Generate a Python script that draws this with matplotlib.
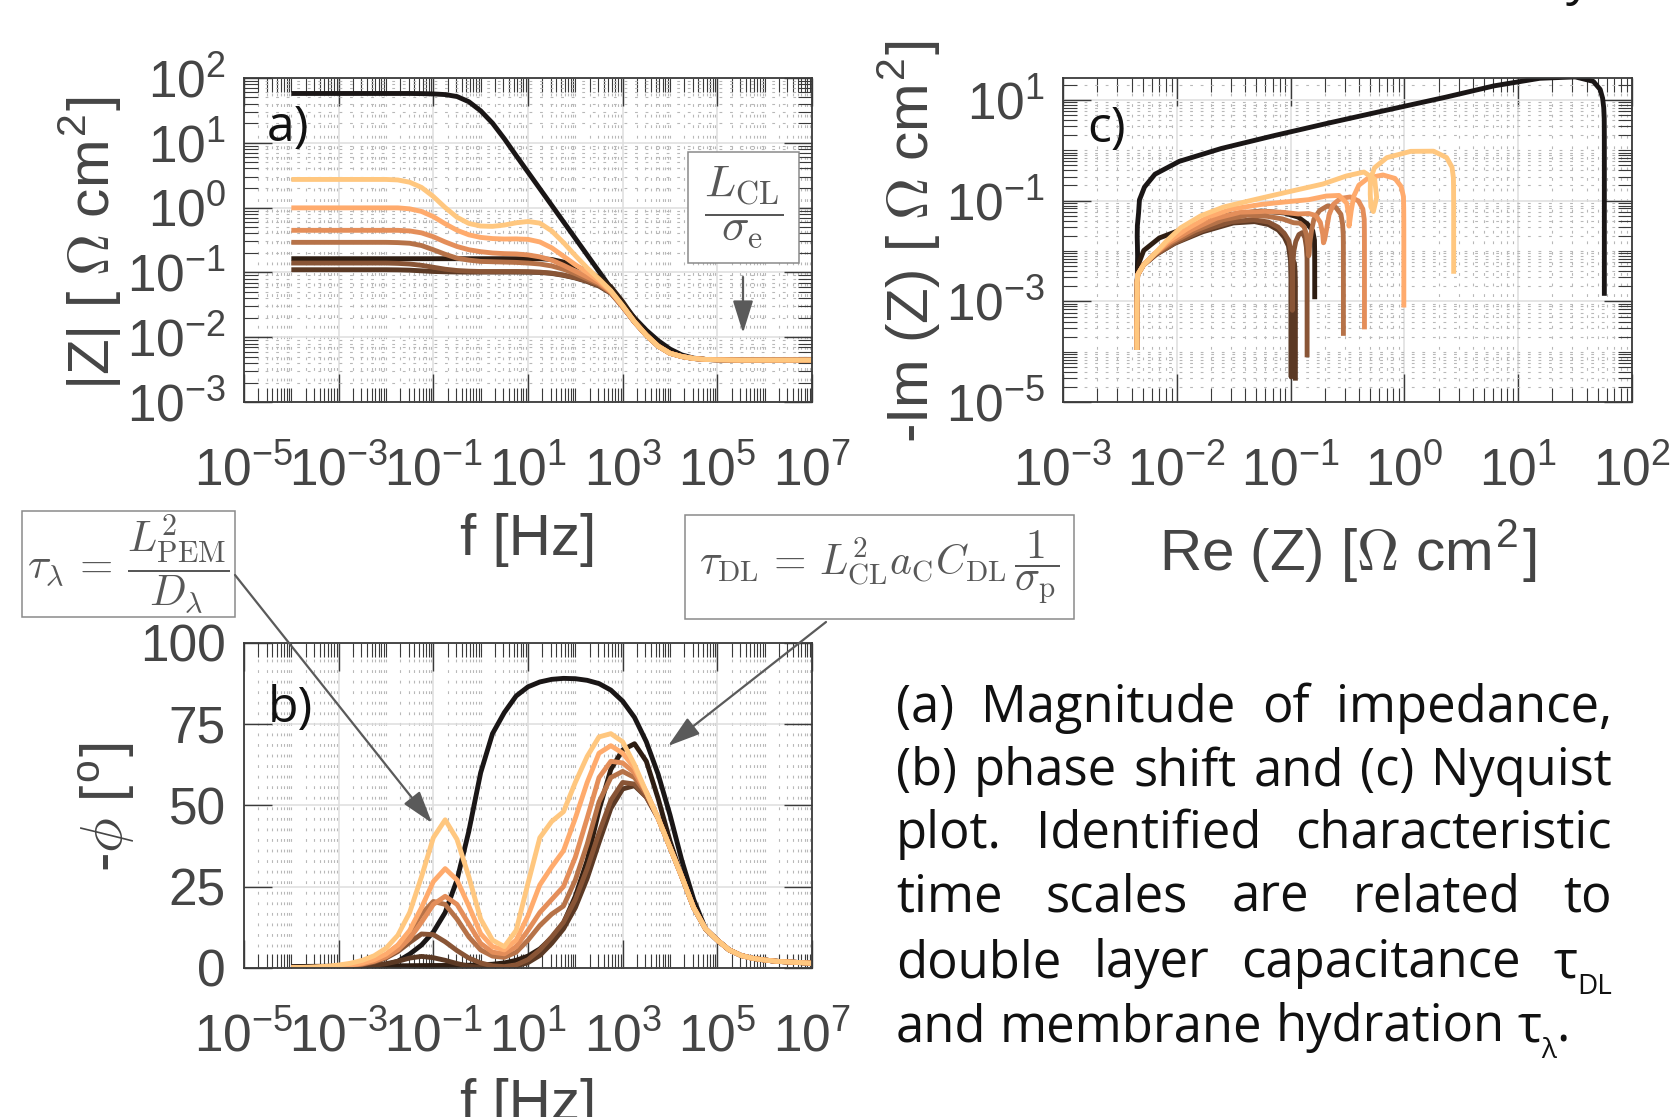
import numpy as np
import matplotlib
matplotlib.use("Agg")
import matplotlib.pyplot as plt
from matplotlib.patches import Rectangle, FancyArrowPatch
from matplotlib.ticker import FixedLocator, LogLocator, FuncFormatter, NullFormatter

W, H = 1676, 1117
plt.rcParams["font.family"] = ["Liberation Sans", "DejaVu Sans"]
plt.rcParams["mathtext.fontset"] = "cm"
plt.rcParams["axes.unicode_minus"] = False

# log10 of frequency [Hz] of the points
log_f = [-4.0, -3.75, -3.5, -3.25, -3.0, -2.75, -2.5, -2.25, -2.0, -1.75, -1.5,
         -1.25, -1.0, -0.75, -0.5, -0.25, 0.0, 0.25, 0.5, 0.75, 1.0, 1.25, 1.5,
         1.75, 2.0, 2.25, 2.5, 2.75, 3.0, 3.25, 3.5, 3.75, 4.0, 4.25, 4.5, 4.75,
         5.0, 5.25, 5.5, 5.75, 6.0, 6.25, 6.5, 6.75, 7.0]

# log10 |Z| [Ohm cm2]; the high frequency tail (4.25 .. 7) is common to all curves
mag_tail = [-2.295, -2.325, -2.34, -2.345, -2.348, -2.35, -2.35, -2.35, -2.35,
            -2.35, -2.35, -2.35]
mag_black = [1.757, 1.757, 1.757, 1.757, 1.757, 1.757, 1.757, 1.757, 1.757, 1.757,
             1.757, 1.755, 1.75, 1.74, 1.71, 1.63, 1.49, 1.30, 1.06, 0.80, 0.545,
             0.29, 0.035, -0.22, -0.475, -0.73, -0.985, -1.24, -1.49, -1.70, -1.89,
             -2.05, -2.18, -2.27, -2.32, -2.34, -2.345, -2.348, -2.35, -2.35, -2.35,
             -2.35, -2.35, -2.35, -2.35]
mag_d1 = [-0.788] * 22 + [-0.80, -0.84, -0.90, -0.98, -1.08, -1.22, -1.45, -1.71,
                          -1.94, -2.12, -2.235] + mag_tail
mag_d3 = [-0.958, -0.958, -0.958, -0.958, -0.958, -0.958, -0.958, -0.958, -0.958,
          -0.96, -0.965, -0.975, -0.985, -0.99, -0.993, -0.995, -0.995, -0.995,
          -0.995, -0.995, -0.997, -1.0, -1.015, -1.045, -1.085, -1.14, -1.21, -1.32,
          -1.53, -1.765, -1.967, -2.135, -2.245] + mag_tail
mag_d2 = [-0.855, -0.855, -0.855, -0.855, -0.855, -0.855, -0.855, -0.855, -0.855,
          -0.86, -0.87, -0.89, -0.92, -0.95, -0.97, -0.98, -0.985, -0.985, -0.985,
          -0.985, -0.987, -0.995, -1.01, -1.04, -1.08, -1.13, -1.20, -1.31, -1.52,
          -1.76, -1.965, -2.135, -2.245] + mag_tail
mag_l4 = [-0.536, -0.536, -0.536, -0.536, -0.536, -0.536, -0.536, -0.536, -0.536,
          -0.54, -0.55, -0.585, -0.65, -0.72, -0.78, -0.81, -0.83, -0.835, -0.84,
          -0.845, -0.855, -0.87, -0.90, -0.95, -1.02, -1.10, -1.18, -1.31, -1.53,
          -1.765, -1.968, -2.135, -2.245] + mag_tail
mag_l3 = [-0.351, -0.351, -0.351, -0.351, -0.351, -0.351, -0.351, -0.351, -0.351,
          -0.351, -0.36, -0.39, -0.45, -0.53, -0.60, -0.65, -0.68, -0.70, -0.71,
          -0.715, -0.73, -0.76, -0.81, -0.89, -0.98, -1.07, -1.16, -1.30, -1.525,
          -1.762, -1.967, -2.135, -2.245] + mag_tail
mag_l2 = [-0.005, -0.005, -0.005, -0.005, -0.005, -0.005, -0.005, -0.005, -0.005,
          -0.005, -0.02, -0.06, -0.14, -0.25, -0.35, -0.42, -0.46, -0.478, -0.485,
          -0.483, -0.49, -0.53, -0.62, -0.75, -0.88, -1.0, -1.13, -1.29, -1.52,
          -1.76, -1.965, -2.135, -2.245] + mag_tail
mag_l1 = [0.433, 0.433, 0.433, 0.433, 0.433, 0.433, 0.433, 0.433, 0.433, 0.425,
          0.39, 0.31, 0.17, 0.0, -0.15, -0.245, -0.285, -0.29, -0.27, -0.235,
          -0.215, -0.24, -0.36, -0.54, -0.74, -0.93, -1.10, -1.28, -1.51, -1.76,
          -1.965, -2.135, -2.245] + mag_tail

# -phase [deg]; high frequency tail (4.25 .. 7) common to the coloured curves
phase_tail = [28, 18.5, 12, 8.5, 5.5, 3.8, 2.9, 2.4, 2.0, 1.8, 1.6, 1.4]
phase_black = [0.0013, 0.0035, 0.0088, 0.019, 0.042, 0.09, 0.2, 0.43, 0.95, 2.0,
               4.2, 7, 11, 17, 27, 42, 60, 72, 78.5, 83.6, 86.4, 87.9, 88.7, 89.0,
               88.9, 88.4, 87.4, 85.4, 82, 77, 69.5, 59.5, 47, 33, 21, 12, 8.5, 5.5,
               3.8, 2.9, 2.4, 2.0, 1.8, 1.6, 1.4]
phase_d1 = [0.39, 0.42, 0.45, 0.48, 0.5, 0.52, 0.55, 0.58, 0.6, 0.62, 0.65, 0.68,
            0.7, 0.72, 0.75, 0.8, 0.9, 1.1, 1.5, 2.3, 3.6, 5.8, 9.2, 13.8, 22, 33,
            48.5, 61, 67, 68.9, 63.5, 52, 39] + phase_tail
phase_d3 = [0.014, 0.025, 0.045, 0.08, 0.14, 0.25, 0.44, 0.75, 1.25, 2.0, 3.0, 3.5,
            3.1, 2.3, 1.3, 0.5, 0.12, 0.018, 0.1, 0.5, 1.6, 3.8, 7.5, 12, 18.5, 27.5,
            38.5, 49, 55, 56, 52.5, 46, 37] + phase_tail
phase_d2 = [0.032, 0.057, 0.1, 0.18, 0.32, 0.57, 1.0, 1.75, 3.0, 5.0, 7.8, 10.4,
            10.2, 8, 5.3, 3.0, 1.5, 0.6, 0.37, 0.9, 2.5, 5.5, 9.5, 14, 21, 30.5, 41.5,
            51.5, 57, 56.5, 52.5, 46, 37] + phase_tail
phase_l4 = [0.041, 0.073, 0.13, 0.23, 0.41, 0.73, 1.3, 2.3, 4.0, 6.8, 11, 16.5, 20.4,
            19.5, 15, 9.5, 5.5, 3.6, 3.2, 4.8, 8.5, 13, 16.5, 19, 27, 38, 51, 58.5,
            60.4, 58.5, 53.5, 46, 37] + phase_tail
phase_l3 = [0.036, 0.065, 0.12, 0.21, 0.38, 0.68, 1.2, 2.0, 3.3, 5.5, 9, 14, 19.5, 22,
            19.5, 13.5, 7.5, 4.8, 4.3, 6.5, 11.5, 17, 21, 25, 34, 46, 58.5, 63.5, 63,
            60, 54, 46, 37] + phase_tail
phase_l2 = [0.044, 0.08, 0.15, 0.27, 0.48, 0.85, 1.5, 2.5, 4.2, 7, 11.5, 18.5, 26.5,
            30.5, 27, 19, 10.5, 6.5, 5.5, 8.5, 16, 25.5, 31, 36, 46, 57, 66, 68.3, 66,
            61.5, 54, 46, 37] + phase_tail
phase_l1 = [0.075, 0.14, 0.26, 0.48, 0.85, 1.4, 2.3, 3.7, 6, 10, 17, 28, 40, 45.5,
            39.5, 28, 15, 8.5, 6.5, 11.5, 26, 40, 45, 48, 57, 65, 71, 72, 69.5, 62.5,
            54, 46, 37] + phase_tail

curves = [
    (mag_black, phase_black, "#1a1616"),
    (mag_d1, phase_d1, "#2e1d12"),
    (mag_d3, phase_d3, "#5b3924"),
    (mag_d2, phase_d2, "#895536"),
    (mag_l4, phase_l4, "#b67248"),
    (mag_l3, phase_l3, "#e48e5a"),
    (mag_l2, phase_l2, "#ffab6d"),
    (mag_l1, phase_l1, "#ffc77f"),
]

ink = "#454545"
sans = ["Open Sans", "Lato", "DejaVu Sans"]


def fx(px):
    return px / W


def fy(py):
    return 1 - py / H


def decade_label(v, pos):
    return r"$\mathdefault{10^{%d}}$" % int(round(np.log10(v)))


def style_axes(ax):
    for s in ax.spines.values():
        s.set_color("#3a3a3a")
        s.set_linewidth(1.3)
    ax.tick_params(which="both", direction="in", top=True, right=True,
                   colors="#3a3a3a", labelcolor=ink, labelsize=37)
    ax.tick_params(which="major", length=20, width=1.0)
    ax.tick_params(which="minor", length=10, width=0.8)
    ax.tick_params(axis="x", pad=32)
    ax.tick_params(axis="y", pad=13)
    ax.grid(True, which="major", color="#dedede", lw=1.1, ls="-")
    ax.grid(True, which="minor", color="#b8b8b8", lw=0.8, ls=(0, (2.5, 7)))
    ax.set_axisbelow(True)


def freq_axis(ax):
    ax.set_xscale("log")
    ax.set_xlim(1e-5, 1e7)
    ax.xaxis.set_major_locator(FixedLocator([1e-5, 1e-3, 1e-1, 1e1, 1e3, 1e5, 1e7]))
    ax.xaxis.set_minor_locator(LogLocator(base=10, subs=np.arange(1, 10), numticks=300))
    ax.xaxis.set_major_formatter(FuncFormatter(decade_label))
    ax.xaxis.set_minor_formatter(NullFormatter())


fig = plt.figure(figsize=(W / 100, H / 100), dpi=100)
ax_a = fig.add_axes([fx(244), fy(402.3), 568 / W, 324.6 / H])
ax_c = fig.add_axes([fx(1063), fy(402.3), 569 / W, 324.6 / H])
ax_b = fig.add_axes([fx(244), fy(967.8), 568 / W, 325.2 / H])

f = 10.0 ** np.array(log_f)
for mag, ph, col in curves:
    z = 10.0 ** np.array(mag)
    phi = np.radians(ph)
    kw = dict(color=col, lw=3.5, solid_joinstyle="round", solid_capstyle="butt")
    ax_a.plot(f, z, **kw)
    ax_b.plot(f, ph, **kw)
    ax_c.plot(z * np.cos(phi), z * np.sin(phi), **kw)

# a) magnitude
freq_axis(ax_a)
ax_a.set_yscale("log")
ax_a.set_ylim(1e-3, 1e2)
ax_a.yaxis.set_major_locator(LogLocator(base=10, numticks=20))
ax_a.yaxis.set_minor_locator(LogLocator(base=10, subs=np.arange(2, 10), numticks=100))
ax_a.yaxis.set_major_formatter(FuncFormatter(decade_label))
ax_a.yaxis.set_minor_formatter(NullFormatter())
style_axes(ax_a)

# b) phase
freq_axis(ax_b)
ax_b.set_ylim(0, 100)
ax_b.set_yticks([0, 25, 50, 75, 100])
style_axes(ax_b)

# c) Nyquist
ax_c.set_xscale("log")
ax_c.set_yscale("log")
ax_c.set_xlim(1e-3, 1e2)
ax_c.set_ylim(1e-5, 27.5)
ax_c.xaxis.set_major_locator(LogLocator(base=10, numticks=20))
ax_c.xaxis.set_minor_locator(LogLocator(base=10, subs=np.arange(2, 10), numticks=100))
ax_c.yaxis.set_major_locator(FixedLocator([1e-5, 1e-3, 1e-1, 1e1]))
ax_c.yaxis.set_minor_locator(LogLocator(base=10, subs=np.arange(1, 10), numticks=300))
for axis in (ax_c.xaxis, ax_c.yaxis):
    axis.set_major_formatter(FuncFormatter(decade_label))
    axis.set_minor_formatter(NullFormatter())
style_axes(ax_c)

# axis labels
lab = dict(fontsize=42, color=ink)
ax_a.set_ylabel(r"|Z| [ $\mathit{\Omega}$ cm$^\mathdefault{2}$]", va="center", **lab)
ax_a.yaxis.set_label_coords(-0.27, 0.49)
ax_a.set_xlabel("f [Hz]", va="center", **lab)
ax_a.xaxis.set_label_coords(0.5, -0.424)

ax_b.set_ylabel(r"-$\phi$ [$^\mathdefault{o}$]", va="center", **lab)
ax_b.yaxis.set_label_coords(-0.241, 0.494)
ax_b.set_xlabel("f [Hz]", va="center", **lab)
ax_b.xaxis.set_label_coords(0.5, -0.422)

ax_c.set_ylabel(r"-Im (Z) [ $\mathit{\Omega}$ cm$^\mathdefault{2}$]", va="center", **lab)
ax_c.yaxis.set_label_coords(-0.27, 0.495)
ax_c.set_xlabel(r"Re (Z) [$\Omega$ cm$^\mathdefault{2}$]", va="center", **lab)
ax_c.xaxis.set_label_coords(0.5, -0.46)

# panel letters
for x, y, s in [(267, 141, "a)"), (268, 722, "b)"), (1087, 142, "c)")]:
    fig.text(fx(x), fy(y), s, fontsize=36, family=sans, color="#111111",
             va="baseline", zorder=6)


# boxed time-scale formulas with arrows
def boxed(x0, y0, x1, y1, s, size):
    fig.add_artist(Rectangle((fx(x0), fy(y1)), (x1 - x0) / W, (y1 - y0) / H,
                             transform=fig.transFigure, facecolor="white",
                             edgecolor="#8a8a8a", lw=1.1, zorder=3))
    fig.text(fx((x0 + x1) / 2), fy((y0 + y1) / 2), s, fontsize=size, color="#585858",
             ha="center", va="center", zorder=4)


def arrow(x0, y0, x1, y1):
    fig.add_artist(FancyArrowPatch((fx(x0), fy(y0)), (fx(x1), fy(y1)),
                                   transform=fig.transFigure,
                                   arrowstyle="-|>,head_length=0.8,head_width=0.25",
                                   mutation_scale=25, color="#5a5a5a", lw=1.6,
                                   shrinkA=0, shrinkB=0, zorder=5))


boxed(688, 152, 799, 263, r"$\dfrac{L_{\mathrm{CL}}}{\sigma_{\mathrm{e}}}$", 33)
arrow(743, 277, 743, 333)
boxed(22, 511, 235, 617, r"$\tau_\lambda\,=\,\dfrac{L^2_{\mathrm{PEM}}}{D_\lambda}$", 31)
arrow(235, 575, 432, 823)
boxed(685, 515, 1074, 619,
      r"$\tau_{\mathrm{DL}}\,=\,L^2_{\mathrm{CL}}a_{\mathrm{C}}C_{\mathrm{DL}}\,\dfrac{1}{\sigma_{\mathrm{p}}}$", 30)
arrow(826, 622, 668, 746)

# justified caption on the right
cap_size = 36.5
cap_lines = [
    "(a) Magnitude of impedance,",
    "(b) phase shift and (c) Nyquist",
    "plot. Identified characteristic",
    "time scales are related to",
    "double layer capacitance τ_DL",
    "and membrane hydration τ_λ.",
]
cap_left, cap_right = 896, 1612
cap_base = [722, 785, 848, 912, 977, 1041]

renderer = fig.canvas.get_renderer()


def width_px(s, size):
    t = fig.text(0, 0, s, fontsize=size, family=sans)
    w = t.get_window_extent(renderer).width
    t.remove()
    return w


def pieces(word):
    if "_" not in word:
        return [(word, False)]
    base, rest = word.split("_")
    sub = rest.rstrip(".")
    out = [(base, False), (sub, True)]
    if rest[len(sub):]:
        out.append((rest[len(sub):], False))
    return out


space = width_px("a a", cap_size) - width_px("aa", cap_size)
for i, (line, yb) in enumerate(zip(cap_lines, cap_base)):
    words = [pieces(w) for w in line.split()]
    widths = [[width_px(s, cap_size * (0.55 if sub else 1)) for s, sub in w] for w in words]
    total = sum(sum(w) for w in widths)
    last = i == len(cap_lines) - 1
    gap = space if last else (cap_right - cap_left - total) / (len(words) - 1)
    x = cap_left
    for w, ws in zip(words, widths):
        for (s, sub), wd in zip(w, ws):
            fig.text(fx(x), fy(yb + (17 if sub else 0)), s,
                     fontsize=cap_size * (0.55 if sub else 1), family=sans,
                     color="#111111", va="baseline")
            x += wd
        x += gap

# cut-off descender of the line above the figure
fig.text(fx(1566), fy(-6), "y", fontsize=cap_size, family=sans, color="#111111",
         va="baseline")

fig.savefig("out.png", dpi=100, facecolor="white")
